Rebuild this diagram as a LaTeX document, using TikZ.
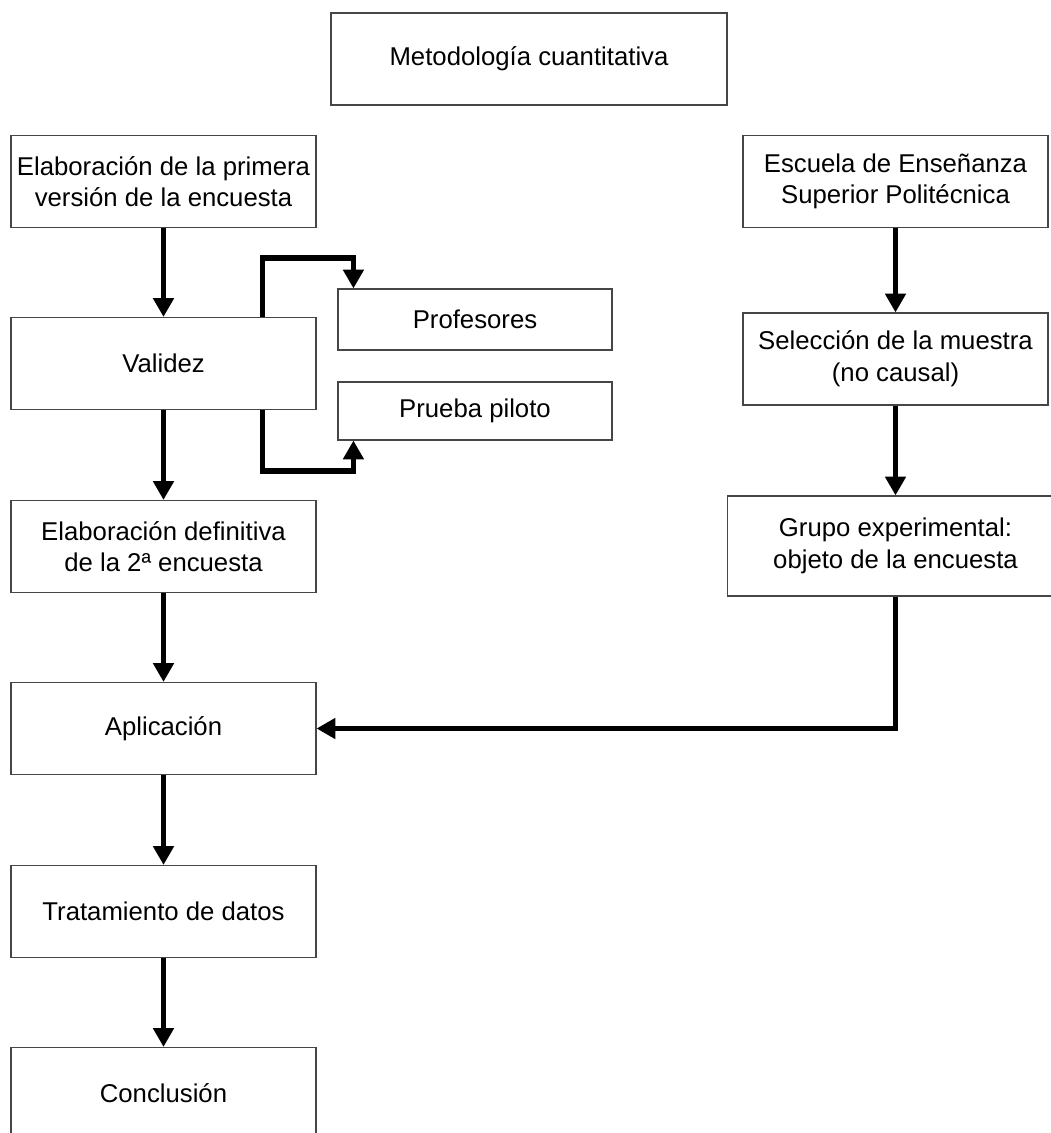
\documentclass[tikz,border=0pt]{standalone}
\usepackage{fontspec}
\setmainfont{Liberation Sans}
\usepackage{tikz}
\usetikzlibrary{arrows.meta, positioning, calc}
\definecolor{boxline}{RGB}{70,70,70}
\tikzset{
  box/.style={rectangle, draw=boxline, fill=white, line width=0.8pt,
    minimum width=7.625cm, minimum height=2.3cm, inner sep=0pt,
    align=center, font=\fontsize{18.3}{22.5}\selectfont},
  smallbox/.style={box, minimum width=6.85cm, minimum height=1.5cm},
  arrow/.style={-{Triangle[length=0.47cm, width=0.5cm]}, line width=3.8pt, color=black},
}
\begin{document}
\begin{tikzpicture}
  \useasboundingbox (0,0) rectangle (26.275,-28.325);
  \clip (0,0) rectangle (26.275,-28.325);

  % Blocks
  \node[box, minimum width=9.9cm] (metodo) at (13.225,-1.475) {Metodología cuantitativa};

  \node[box] (elab1) at (4.0875,-4.5375) {Elaboración de la primera\\versión de la encuesta};
  \node[box] (validez) at (4.0875,-9.0875) {Validez};
  \node[box] (elab2) at (4.0875,-13.6625) {Elaboración definitiva\\de la 2ª encuesta};
  \node[box] (aplic) at (4.0875,-18.2125) {Aplicación};
  \node[box] (trat) at (4.0875,-22.7875) {Tratamiento de datos};
  \node[box] (concl) at (4.0875,-27.3375) {Conclusión};

  \node[smallbox, minimum height=1.525cm] (prof) at (11.875,-7.9875) {Profesores};
  \node[smallbox, minimum height=1.45cm] (piloto) at (11.875,-10.275) {Prueba piloto};

  \node[box] (escuela) at (22.3875,-4.5375) {Escuela de Enseñanza\\Superior Politécnica};
  \node[box] (muestra) at (22.3875,-8.975) {Selección de la muestra\\(no causal)};
  \node[box, minimum width=8.4cm, minimum height=2.5cm] (grupo) at (22.3875,-13.65) {Grupo experimental:\\objeto de la encuesta};

  % Flows
  \draw[arrow] (elab1) -- (validez);
  \draw[arrow] (validez) -- (elab2);
  \draw[arrow] (elab2) -- (aplic);
  \draw[arrow] (aplic) -- (trat);
  \draw[arrow] (trat) -- (concl);

  \draw[arrow] ([xshift=6.3cm]validez.north west) -- ++(0,1.475) -| ([xshift=0.4cm]prof.north west);
  \draw[arrow] ([xshift=6.3cm]validez.south west) -- ++(0,-1.525) -| ([xshift=0.4cm]piloto.south west);

  \draw[arrow] (escuela) -- (muestra);
  \draw[arrow] (muestra) -- (grupo);
  \draw[arrow] (grupo.south) |- (aplic.east);
\end{tikzpicture}
\end{document}
